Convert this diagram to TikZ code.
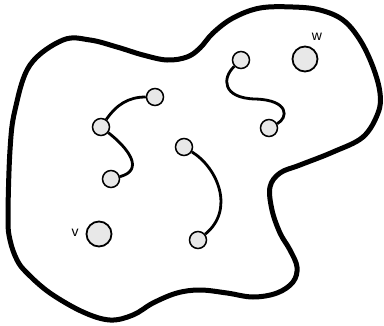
\documentclass[tikz,border=0pt]{standalone}
\usepackage{fontspec}
\setmainfont{Liberation Sans}
\begin{document}
\begin{tikzpicture}[x=1pt,y=-1pt,
  small/.style={circle,draw,line width=1.5pt,fill=black!9,minimum size=17pt,inner sep=0pt},
  big/.style={circle,draw,line width=1.8pt,fill=black!9,minimum size=25pt,inner sep=0pt},
  link/.style={line width=2.8pt},
  blob/.style={line width=5pt,line join=round},
  lab/.style={font=\fontsize{14}{14}\selectfont,inner sep=0pt}]
\useasboundingbox (0,0) rectangle (384,325);
\draw[blob] plot[smooth cycle,tension=0.6] coordinates {
 (15,110) (30,65) (63,40) (90,40) (117,47) (143,55) (167,60) (187,57)
 (200,48) (213,33) (233,18) (260,8) (293,7) (320,10) (343,20) (360,40)
 (373,67) (380,93) (378,113) (363,137) (333,152) (300,165) (280,173)
 (270,187) (272,210) (280,233) (290,250) (297,267) (293,282) (277,293)
 (253,297) (227,293) (200,290) (177,293) (153,303) (133,315) (110,320)
 (83,312) (50,293) (27,273) (17,260) (10,240) (8,217) (10,150)};
\node[small] (A) at (155,97) {};
\node[small] (B) at (101,127) {};
\node[small] (C) at (111,179) {};
\node[small] (D) at (184,147) {};
\node[small] (E) at (198,240) {};
\node[small] (F) at (241,60) {};
\node[small] (G) at (269,128) {};
\node[big] (w) at (305,59) {};
\node[big] (v) at (99,234) {};
\node[lab] (wl) at (317,37) {w};
\node[lab] (vl) at (75,233) {v};
\draw[link] (A) to[out=180,in=55] (B);
\draw[link] (B) .. controls (128,148) and (145,170) .. (C);
\draw[link] (D) .. controls (218,168) and (235,210) .. (E);
\draw[link] (F) .. controls (222,78) and (222,98) .. (255,99) .. controls (290,100) and (288,118) .. (G);
\end{tikzpicture}
\end{document}
